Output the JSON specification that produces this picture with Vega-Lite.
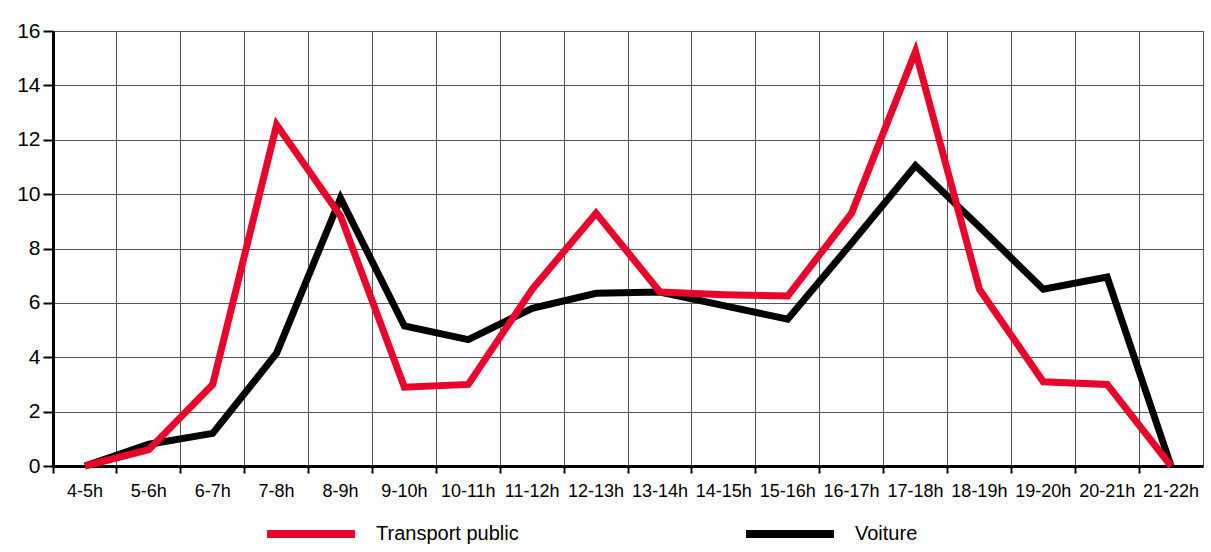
{
  "$schema": "https://vega.github.io/schema/vega-lite/v6.json",
  "width": 1150,
  "height": 435,
  "autosize": {"type": "none"},
  "padding": {"left": 53, "top": 31, "right": 8, "bottom": 86},
  "background": "white",
  "config": {
    "font": "Liberation Sans",
    "view": {"stroke": "#555", "strokeWidth": 1},
    "axis": {"labelColor": "#000", "domainColor": "#000", "tickColor": "#000", "gridColor": "#555", "gridOpacity": 1, "gridWidth": 1, "title": null}
  },
  "data": {
    "values": [
      {"h": "4-5h", "s": "Transport public", "v": 0},
      {"h": "5-6h", "s": "Transport public", "v": 0.6},
      {"h": "6-7h", "s": "Transport public", "v": 3.0},
      {"h": "7-8h", "s": "Transport public", "v": 12.55},
      {"h": "8-9h", "s": "Transport public", "v": 9.2},
      {"h": "9-10h", "s": "Transport public", "v": 2.9},
      {"h": "10-11h", "s": "Transport public", "v": 3.0},
      {"h": "11-12h", "s": "Transport public", "v": 6.5},
      {"h": "12-13h", "s": "Transport public", "v": 9.3},
      {"h": "13-14h", "s": "Transport public", "v": 6.4},
      {"h": "14-15h", "s": "Transport public", "v": 6.3},
      {"h": "15-16h", "s": "Transport public", "v": 6.25},
      {"h": "16-17h", "s": "Transport public", "v": 9.3},
      {"h": "17-18h", "s": "Transport public", "v": 15.25},
      {"h": "18-19h", "s": "Transport public", "v": 6.5},
      {"h": "19-20h", "s": "Transport public", "v": 3.1},
      {"h": "20-21h", "s": "Transport public", "v": 3.0},
      {"h": "21-22h", "s": "Transport public", "v": 0},
      {"h": "4-5h", "s": "Voiture", "v": 0},
      {"h": "5-6h", "s": "Voiture", "v": 0.8},
      {"h": "6-7h", "s": "Voiture", "v": 1.2},
      {"h": "7-8h", "s": "Voiture", "v": 4.15},
      {"h": "8-9h", "s": "Voiture", "v": 9.85},
      {"h": "9-10h", "s": "Voiture", "v": 5.15},
      {"h": "10-11h", "s": "Voiture", "v": 4.65},
      {"h": "11-12h", "s": "Voiture", "v": 5.8},
      {"h": "12-13h", "s": "Voiture", "v": 6.35},
      {"h": "13-14h", "s": "Voiture", "v": 6.4},
      {"h": "14-15h", "s": "Voiture", "v": 5.9},
      {"h": "15-16h", "s": "Voiture", "v": 5.4},
      {"h": "16-17h", "s": "Voiture", "v": 8.2},
      {"h": "17-18h", "s": "Voiture", "v": 11.05},
      {"h": "18-19h", "s": "Voiture", "v": 8.8},
      {"h": "19-20h", "s": "Voiture", "v": 6.5},
      {"h": "20-21h", "s": "Voiture", "v": 6.95},
      {"h": "21-22h", "s": "Voiture", "v": 0}
    ]
  },
  "encoding": {
    "x": {
      "field": "h",
      "type": "ordinal",
      "bandPosition": 0.5,
      "sort": ["4-5h","5-6h","6-7h","7-8h","8-9h","9-10h","10-11h","11-12h","12-13h","13-14h","14-15h","15-16h","16-17h","17-18h","18-19h","19-20h","20-21h","21-22h"],
      "scale": {"type": "band", "paddingInner": 0, "paddingOuter": 0},
      "axis": {"bandPosition": 0, "labelOffset": 0, "labelAngle": 0, "labelFontSize": 18, "labelPadding": 9, "tickSize": 7, "tickWidth": 2, "domainWidth": 3, "grid": true, "labelBound": false}
    },
    "y": {
      "field": "v",
      "type": "quantitative",
      "scale": {"domain": [0, 16], "nice": false},
      "axis": {"values": [0, 2, 4, 6, 8, 10, 12, 14, 16], "labelFontSize": 21, "labelPadding": 3, "tickSize": 10, "tickWidth": 2, "domainWidth": 3, "grid": true}
    },
    "color": {
      "field": "s",
      "type": "nominal",
      "scale": {"domain": ["Transport public", "Voiture"], "range": ["#e8042b", "#000000"]},
      "legend": {
        "title": null,
        "orient": "none",
        "legendX": 210,
        "legendY": 455,
        "direction": "horizontal",
        "symbolType": "stroke",
        "symbolSize": 7744,
        "symbolStrokeWidth": 8,
        "labelFontSize": 20,
        "labelOffset": 17,
        "columnPadding": 211,
        "labelColor": "#000"
      }
    }
  },
  "layer": [
    {
      "transform": [{"filter": "datum.s === 'Voiture'"}],
      "mark": {"type": "line", "strokeWidth": 7, "strokeJoin": "miter", "strokeCap": "butt"}
    },
    {
      "transform": [{"filter": "datum.s === 'Transport public'"}],
      "mark": {"type": "line", "strokeWidth": 7, "strokeJoin": "miter", "strokeCap": "butt"}
    }
  ]
}
